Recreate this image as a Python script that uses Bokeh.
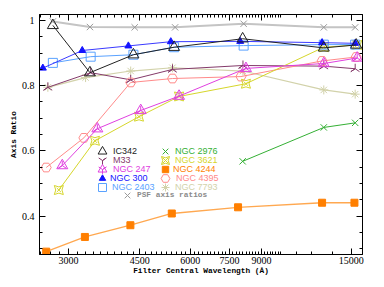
import numpy as np
from bokeh.plotting import figure
from bokeh.models import (Range1d, FixedTicker, LogAxis, LinearAxis, Legend,
                          LegendItem, BasicTickFormatter, CustomJSTickFormatter)
from bokeh.embed import file_html
from bokeh.resources import INLINE

# ---------------- data ----------------
x_major = [3000, 4500, 6000, 7500, 9000, 15000]
x_minor = list(range(2550, 10100, 150)) + [11000, 12000, 13500]
y_major = [0.4, 0.6, 0.8, 1.0]
y_minor = [0.3, 0.35, 0.4, 0.45, 0.5, 0.55, 0.6, 0.65, 0.7, 0.75, 0.8, 0.85, 0.9, 0.95, 1.0]

psf_wl = [2743, 3388, 4372, 5503, 8131, 12834, 15346]
psf_q = [0.997, 0.980, 0.979, 0.979, 0.990, 0.979, 0.979]

ic342_wl = [2743, 3388, 4340, 5471, 8085, 12834, 15434]
ic342_q = [0.985, 0.840, 0.895, 0.918, 0.944, 0.916, 0.925]

m33_wl = [2666, 3402, 4273, 5422, 8099, 12834, 15346]
m33_q = [0.795, 0.840, 0.818, 0.850, 0.862, 0.860, 0.852]

ngc247_wl = [2894, 3534, 4524, 5628, 8238, 12834, 15521]
ngc247_q = [0.555, 0.668, 0.724, 0.768, 0.853, 0.868, 0.885]

ngc300_wl = [2591, 3243, 4217, 5370, 7974, 12710, 15346]
ngc300_q = [0.854, 0.908, 0.922, 0.935, 0.936, 0.932, 0.930]

ngc2403_wl = [2743, 3402, 4340, 5471, 8131, 12834, 15346]
ngc2403_q = [0.870, 0.889, 0.895, 0.918, 0.923, 0.926, 0.926]

ngc2976_wl = [8085, 12834, 15346]
ngc2976_q = [0.568, 0.672, 0.686]

ngc3621_wl = [2838, 3486, 4480, 5628, 8238, 12834, 15521]
ngc3621_q = [0.480, 0.631, 0.705, 0.767, 0.806, 0.918, 0.925]

ngc4244_wl = [2641, 3292, 4266, 5400, 7876, 12710, 15283]
ngc4244_q = [0.291, 0.336, 0.372, 0.408, 0.427, 0.441, 0.441]

ngc4395_wl = [2641, 3273, 4273, 5422, 8007, 12710, 15434]
ngc4395_q = [0.549, 0.640, 0.810, 0.822, 0.828, 0.876, 0.888]

ngc7793_wl = [2666, 3305, 4273, 5422, 8099, 12834, 15346]
ngc7793_q = [0.795, 0.825, 0.845, 0.855, 0.845, 0.787, 0.774]

# ---------------- figure ----------------
p = figure(width=382, height=285, x_axis_type="log",
           x_range=Range1d(2542, 16000), y_range=Range1d(0.2822, 1.0184),
           output_backend="svg", toolbar_location=None,
           min_border_left=39, min_border_right=20, min_border_top=14, min_border_bottom=31)
p.xgrid.visible = False
p.ygrid.visible = False
p.outline_line_color = "black"
p.background_fill_color = "white"

TICK_FONT = "Liberation Serif"
TITLE_FONT = "Liberation Mono"


def style_axis(ax, labels=True):
    ax.axis_line_color = "black"
    ax.major_tick_in = 6
    ax.major_tick_out = 0
    ax.minor_tick_in = 3
    ax.minor_tick_out = 0
    ax.major_tick_line_color = "black"
    ax.minor_tick_line_color = "black"
    if labels:
        ax.major_label_text_font = TICK_FONT
        ax.major_label_text_font_size = "10px"
        ax.major_label_text_color = "black"
        ax.axis_label_text_font = TITLE_FONT
        ax.axis_label_text_font_size = "7.8px"
        ax.axis_label_text_font_style = "bold"
        ax.axis_label_text_color = "black"
    else:
        ax.formatter = CustomJSTickFormatter(code="return ''")
        ax.major_label_standoff = 0


xt = FixedTicker(ticks=x_major, minor_ticks=x_minor)
yt = FixedTicker(ticks=y_major, minor_ticks=y_minor)

xa = p.xaxis[0]
xa.ticker = xt
xa.formatter = BasicTickFormatter(use_scientific=False)
xa.axis_label = "Filter Central Wavelength (Å)"
style_axis(xa)
xa.major_label_standoff = 2
xa.axis_label_standoff = 0

ya = p.yaxis[0]
ya.ticker = yt
ya.major_label_overrides = {0.4: "0.4", 0.6: "0.6", 0.8: "0.8", 1.0: "1"}
ya.axis_label = "Axis Ratio"
style_axis(ya)
ya.major_label_standoff = 5
ya.axis_label_standoff = 1

top = LogAxis(ticker=FixedTicker(ticks=x_major, minor_ticks=x_minor))
style_axis(top, labels=False)
p.add_layout(top, "above")
right = LinearAxis(ticker=FixedTicker(ticks=y_major, minor_ticks=y_minor))
style_axis(right, labels=False)
p.add_layout(right, "right")

# ---------------- series ----------------
C_PSF = "#9a9a9a"
C_IC = "#222222"
C_M33 = "#843a6a"
C_247 = "#e040e0"
C_300 = "#1414ff"
C_2403 = "#5aa2ff"
C_2976 = "#34b034"
C_3621 = "#d6d62a"
C_4244 = "#ff7f00"
C_4395 = "#ff8a8a"
C_7793 = "#d2d2aa"

p.line(psf_wl, psf_q, line_color="#c4c4c4", line_width=2)
r_psf = p.scatter(psf_wl, psf_q, marker="x", size=9, line_color=C_PSF, line_width=1)

p.line(ngc7793_wl, ngc7793_q, line_color=C_7793, line_width=1.2)
r_7793 = p.scatter(ngc7793_wl, ngc7793_q, marker="asterisk", size=9, line_color=C_7793)

p.line(m33_wl, m33_q, line_color=C_M33, line_width=1)
r_m33 = p.scatter(m33_wl, m33_q, marker="y", angle=np.pi, size=10, line_color=C_M33)

p.line(ngc4395_wl, ngc4395_q, line_color=C_4395, line_width=1)
r_4395 = p.scatter(ngc4395_wl, ngc4395_q, marker="hex", size=10, fill_alpha=0, line_color=C_4395)

p.line(ngc3621_wl, ngc3621_q, line_color=C_3621, line_width=1)
r_3621a = p.scatter(ngc3621_wl, ngc3621_q, marker="square_pin", size=9, fill_alpha=0, line_color=C_3621)
r_3621b = p.scatter(ngc3621_wl, ngc3621_q, marker="x", size=6, line_color=C_3621)

p.line(ngc247_wl, ngc247_q, line_color=C_247, line_width=1)
r_247a = p.scatter(ngc247_wl, ngc247_q, marker="triangle", size=11, fill_alpha=0, line_color=C_247)
r_247b = p.scatter(ngc247_wl, ngc247_q, marker="y", angle=np.pi, size=9, line_color=C_247)

p.line(ngc2976_wl, ngc2976_q, line_color=C_2976, line_width=1)
r_2976 = p.scatter(ngc2976_wl, ngc2976_q, marker="x", size=9, line_color=C_2976)

p.line(ngc4244_wl, ngc4244_q, line_color="#ffa850", line_width=1.3)
r_4244 = p.scatter(ngc4244_wl, ngc4244_q, marker="square", size=7, fill_color=C_4244, line_color=C_4244)

p.line(ngc2403_wl, ngc2403_q, line_color=C_2403, line_width=1)
r_2403 = p.scatter(ngc2403_wl, ngc2403_q, marker="square", size=9, fill_alpha=0, line_color=C_2403)

p.line(ngc300_wl, ngc300_q, line_color="#3a3aff", line_width=1)
r_300 = p.scatter(ngc300_wl, ngc300_q, marker="triangle", size=7, fill_color=C_300, line_color=C_300)

p.line(ic342_wl, ic342_q, line_color=C_IC, line_width=1)
r_ic = p.scatter(ic342_wl, ic342_q, marker="triangle", size=11, fill_alpha=0, line_color=C_IC)

# ---------------- legend (one small legend per entry, coloured text) ----------------
FRAME_LEFT, FRAME_BOTTOM = 39, 254  # page pixels of the frame


def add_entry(label, color, renderers, cx, cy, font="Liberation Sans", size="9px",
              style="normal", g=22):
    # legend markers are drawn at 0.4 * glyph size; text starts 5px right of the marker centre
    leg = Legend(items=[LegendItem(label=label, renderers=renderers)],
                 location=(cx - FRAME_LEFT - g / 2, FRAME_BOTTOM - cy - g / 2),
                 glyph_width=g, glyph_height=g, label_height=g, label_width=10,
                 label_standoff=int(round(5 - g / 2)), padding=0, margin=0, spacing=0,
                 border_line_alpha=0, background_fill_alpha=0,
                 label_text_color=color, label_text_font=font,
                 label_text_font_size=size, label_text_font_style=style)
    p.add_layout(leg)


rows = [151, 160, 169, 178, 187]
add_entry("IC342", C_IC, [r_ic], 102, rows[0])
add_entry("M33", C_M33, [r_m33], 102, rows[1])
add_entry("NGC 247", C_247, [r_247a, r_247b], 102, rows[2])
add_entry("NGC 300", C_300, [r_300], 102, rows[3], g=16)
add_entry("NGC 2403", C_2403, [r_2403], 102, rows[4], g=20)
add_entry("NGC 2976", C_2976, [r_2976], 165, rows[0], g=20)
add_entry("NGC 3621", C_3621, [r_3621a, r_3621b], 165, rows[1], g=20)
add_entry("NGC 4244", C_4244, [r_4244], 165, rows[2], g=16)
add_entry("NGC 4395", C_4395, [r_4395], 165, rows[3])
add_entry("NGC 7793", C_7793, [r_7793], 165, rows[4], g=20)
add_entry("PSF axis ratios", "#8a8a8a", [r_psf], 127, 195, font=TITLE_FONT, size="7.8px",
          style="bold", g=20)

open("out.html", "w").write(file_html(p, INLINE))
